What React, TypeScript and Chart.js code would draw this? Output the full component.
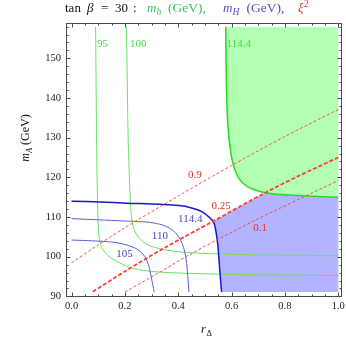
import React, { useEffect, useRef } from 'react';
import { Chart, registerables } from 'chart.js';
Chart.register(...registerables);

// ---- axis ranges & ticks ----
const X_MIN = -0.021, X_MAX = 1.014, Y_MIN = 89.85, Y_MAX = 158.9;
const xTicks = [0, 0.2, 0.4, 0.6, 0.8, 1.0];
const xTickLabels = ['0.0', '0.2', '0.4', '0.6', '0.8', '1.0'];
const yTicks = [90, 100, 110, 120, 130, 140, 150];
const yTickLabels = ['90', '100', '110', '120', '130', '140', '150'];
const xMinorTicks = [0.05, 0.1, 0.15, 0.25, 0.3, 0.35, 0.45, 0.5, 0.55, 0.65, 0.7, 0.75, 0.85, 0.9, 0.95];
const yMinorTicks = [92, 94, 96, 98, 102, 104, 106, 108, 112, 114, 116, 118, 122, 124, 126, 128, 132, 134, 136, 138, 142, 144, 146, 148, 152, 154, 156, 158];

// ---- contours of m_h (GeV) ----
const mh95 = [[0.090, 157.9], [0.093, 135], [0.095, 122], [0.098, 112], [0.101, 107], [0.104, 104.5], [0.110, 102.8], [0.120, 101.5], [0.137, 100.3], [0.160, 99.2], [0.190, 98.1], [0.235, 97.0], [0.300, 96.3], [0.400, 95.9], [0.550, 95.6], [0.750, 95.4], [1.0, 95.25]];
const mh100 = [[0.206, 157.9], [0.212, 130], [0.218, 118], [0.222, 112], [0.226, 109.5], [0.231, 107.6], [0.240, 106], [0.250, 105], [0.268, 103.8], [0.290, 102.9], [0.320, 102.2], [0.370, 101.5], [0.450, 101.0], [0.600, 100.6], [0.800, 100.4], [1.0, 100.25]];
const mh1144 = [[0.578, 157.9], [0.580, 145], [0.584, 136], [0.590, 130], [0.598, 125.8], [0.609, 122.6], [0.625, 120.0], [0.648, 118.2], [0.680, 117.0], [0.727, 116.15], [0.800, 115.6], [0.900, 115.25], [1.0, 115.0]];

// ---- contours of m_H (GeV) ----
const mH105 = [[0, 104.2], [0.08, 104.0], [0.15, 103.7], [0.2, 103.1], [0.235, 102.3], [0.258, 101.3], [0.275, 100.0], [0.288, 98], [0.297, 95.5], [0.304, 93], [0.31, 91.1]];
const mH110 = [[0, 109.6], [0.1, 109.3], [0.2, 109.0], [0.28, 108.75], [0.33, 108.2], [0.365, 107.3], [0.39, 106.0], [0.408, 104.3], [0.42, 102.3], [0.428, 100], [0.434, 96.5], [0.44, 91.1]];
const mH1144 = [[0, 114.0], [0.107, 113.8], [0.206, 113.5], [0.331, 113.2], [0.418, 112.8], [0.46, 112.1], [0.49, 111.3], [0.51, 110.3], [0.521, 109.6], [0.531, 108.95], [0.538, 107.5], [0.544, 105.2], [0.549, 102.5], [0.553, 99], [0.557, 95.5], [0.5625, 91.1]];

// ---- contours of xi^2 ----
const xi09 = [[0, 98.5], [0.1, 103], [0.2, 107.3], [0.4, 115.3], [0.6, 123], [0.8, 130.3], [1.0, 137.1]];
const xi025 = [[0.08, 91.2], [0.2, 96.3], [0.35, 102.3], [0.531, 108.95], [0.727, 116.15], [0.85, 120.3], [1.0, 125]];
const xi01 = [[0.2, 91.1], [0.32, 95.7], [0.444, 100.6], [0.556, 104.6], [0.7, 109.6], [0.856, 114.6], [1.0, 119.2]];

// data domain corners
const DATA_X_MAX = 1.0, DATA_Y_MIN = 91.1, DATA_Y_MAX = 157.9;
// where mH=114.4 meets xi^2=0.25, and where xi^2=0.25 meets mh=114.4
const crossBlueXi = [0.531, 108.95];
const crossXiGreen = [0.727, 116.15];

// ---- contour labels ----
const greenLabels: [string, number, number][] = [['95', 0.095, 153.6], ['100', 0.219, 153.6], ['114.4', 0.581, 153.6]];
const redLabels: [string, number, number][] = [['0.9', 0.462, 120.6], ['0.25', 0.5605, 112.65], ['0.1', 0.707, 107.25]];
const blueLabels: [string, number, number][] = [['114.4', 0.445, 109.6], ['110', 0.331, 105.15], ['105', 0.198, 100.6]];

const toPts = (a: number[][]) => a.map(([x, y]) => ({ x, y }));

const SERIF = '"Liberation Serif", "DejaVu Serif", serif';
const GREEN_LINE = '#66e466';
const GREEN_MAIN = '#22dd22';
const BLUE_LINE = '#5a5aee';
const BLUE_MAIN = '#1818d8';
const RED = '#ff3c3c';

function buildGreenRegion() {
  const last = mh1144[mh1144.length - 1];
  return [...mh1144, last, [DATA_X_MAX, DATA_Y_MAX], [DATA_X_MAX, DATA_Y_MAX]];
}
function buildBlueRegion() {
  const lower = mH1144.filter(([, y]) => y < crossBlueXi[1]).reverse();
  const mid = xi025.filter(([x]) => x > crossBlueXi[0] && x < crossXiGreen[0]);
  const right = mh1144.filter(([x]) => x > crossXiGreen[0]);
  const bottomStart = lower[0];
  return [
    bottomStart,
    ...lower,
    crossBlueXi, crossBlueXi,
    ...mid,
    crossXiGreen, crossXiGreen,
    ...right,
    right[right.length - 1],
    [DATA_X_MAX, DATA_Y_MIN], [DATA_X_MAX, DATA_Y_MIN],
    bottomStart,
  ];
}

function lineDs(data: number[][], color: string, width: number, dash: number[] = []) {
  return {
    data: toPts(data), showLine: true, borderColor: color, borderWidth: width,
    borderDash: dash, pointRadius: 0, tension: 0.3, fill: false, order: 1,
  };
}

const overlay = {
  id: 'overlay',
  afterDraw(chart: any) {
    const { ctx, chartArea: a, scales } = chart;
    const sx = scales.x, sy = scales.y;
    ctx.save();
    // frame
    ctx.strokeStyle = '#4a4a4a';
    ctx.lineWidth = 1;
    ctx.strokeRect(a.left + 0.5, a.top + 0.5, a.right - a.left - 1, a.bottom - a.top - 1);
    // ticks
    ctx.beginPath();
    const xt = (v: number, len: number) => {
      const p = Math.round(sx.getPixelForValue(v)) + 0.5;
      ctx.moveTo(p, a.bottom); ctx.lineTo(p, a.bottom - len);
      ctx.moveTo(p, a.top); ctx.lineTo(p, a.top + len);
    };
    const yt = (v: number, len: number) => {
      const p = Math.round(sy.getPixelForValue(v)) + 0.5;
      ctx.moveTo(a.left, p); ctx.lineTo(a.left + len, p);
      ctx.moveTo(a.right, p); ctx.lineTo(a.right - len, p);
    };
    xTicks.forEach(v => xt(v, 4.5));
    xMinorTicks.forEach(v => xt(v, 2.5));
    yTicks.forEach(v => yt(v, 4.5));
    yMinorTicks.forEach(v => yt(v, 2.5));
    ctx.stroke();

    // contour labels
    ctx.font = `11px ${SERIF}`;
    ctx.textBaseline = 'middle';
    ctx.textAlign = 'left';
    ctx.fillStyle = '#44dd44';
    greenLabels.forEach(([t, x, y]) => ctx.fillText(t, sx.getPixelForValue(x), sy.getPixelForValue(y)));
    ctx.textAlign = 'center';
    ctx.fillStyle = '#ee2a2a';
    redLabels.forEach(([t, x, y]) => ctx.fillText(t, sx.getPixelForValue(x), sy.getPixelForValue(y)));
    ctx.fillStyle = '#4646cc';
    blueLabels.forEach(([t, x, y]) => ctx.fillText(t, sx.getPixelForValue(x), sy.getPixelForValue(y)));

    // title
    ctx.textAlign = 'left';
    ctx.textBaseline = 'alphabetic';
    const by = 12;
    const TS = 13, SS = 9.5;
    const run = (t: string, x: number, italic: boolean, size: number, color: string, dy = 0) => {
      ctx.font = `${italic ? 'italic ' : ''}${size}px ${SERIF}`;
      ctx.fillStyle = color;
      ctx.fillText(t, x, by + dy);
      return x + ctx.measureText(t).width;
    };
    const K = '#111';
    run('tan', 65, false, TS, K);
    run('\u03B2', 87, true, TS, K);
    run('=', 101, false, TS, K);
    run('30', 115, false, TS, K);
    run(':', 133, false, TS, K);
    const GT = '#3cbf5a', BT = '#5050c0', RT = '#e8323c';
    let cx = 147;
    cx = run('m', cx, true, TS, GT);
    cx = run('h', cx, true, SS, GT, 2.5);
    run('(GeV),', 168, false, 13.5, GT);
    cx = 223;
    cx = run('m', cx, true, TS, BT);
    cx = run('H', cx, true, SS, BT, 2.5);
    run('(GeV),', 246.5, false, 13.5, BT);
    cx = 298;
    cx = run('\u03BE', cx, true, TS, RT);
    run('2', cx + 0.5, false, SS, RT, -5);

    // x axis title
    ctx.fillStyle = '#111';
    ctx.font = `italic 12px ${SERIF}`;
    ctx.fillText('r', 201, 333);
    ctx.font = `8.5px ${SERIF}`;
    ctx.fillText('\u0394', 206.5, 336);

    // y axis title (rotated)
    ctx.save();
    ctx.translate(29, 138);
    ctx.rotate(-Math.PI / 2);
    ctx.font = `italic 12px ${SERIF}`;
    const w1 = ctx.measureText('m').width;
    ctx.font = `italic 8.5px ${SERIF}`;
    const w2 = ctx.measureText('A').width;
    ctx.font = `12px ${SERIF}`;
    const w3 = ctx.measureText(' (GeV)').width;
    let rx = -(w1 + w2 + w3) / 2;
    ctx.font = `italic 12px ${SERIF}`;
    ctx.fillText('m', rx, 0); rx += w1;
    ctx.font = `italic 8.5px ${SERIF}`;
    ctx.fillText('A', rx, 2.5); rx += w2;
    ctx.font = `12px ${SERIF}`;
    ctx.fillText(' (GeV)', rx, 0);
    ctx.restore();

    ctx.restore();
  },
};

export default function App() {
  const ref = useRef<HTMLCanvasElement | null>(null);
  useEffect(() => {
    if (!ref.current) return;
    const chart = new Chart(ref.current, {
      type: 'scatter',
      data: {
        datasets: [
          lineDs(xi025, RED, 1.8, [4, 2]),
          lineDs(xi09, RED, 0.9, [3, 2]),
          lineDs(xi01, RED, 0.9, [3, 2]),
          lineDs(mH1144, BLUE_MAIN, 1.5),
          lineDs(mH110, BLUE_LINE, 1),
          lineDs(mH105, BLUE_LINE, 1),
          lineDs(mh1144, GREEN_MAIN, 1.5),
          lineDs(mh100, GREEN_LINE, 1),
          lineDs(mh95, GREEN_LINE, 1),
          {
            data: toPts(buildGreenRegion()), showLine: true, borderWidth: 0, borderColor: 'rgba(0,0,0,0)',
            backgroundColor: '#b3ffb3', fill: 'shape', pointRadius: 0, tension: 0.3, order: 5,
          },
          {
            data: toPts(buildBlueRegion()), showLine: true, borderWidth: 0, borderColor: 'rgba(0,0,0,0)',
            backgroundColor: '#b3b3ff', fill: 'shape', pointRadius: 0, tension: 0.3, order: 5,
          },
        ] as any,
      },
      options: {
        animation: false,
        responsive: false,
        devicePixelRatio: 1,
        events: [],
        layout: { padding: { top: 23, right: 4, left: 0, bottom: 0 } },
        plugins: { legend: { display: false }, tooltip: { enabled: false }, title: { display: false } },
        scales: {
          x: {
            type: 'linear', min: X_MIN, max: X_MAX,
            grid: { display: false, drawTicks: false },
            border: { display: false },
            ticks: {
              autoSkip: false, maxRotation: 0, padding: 3, color: '#222',
              font: { family: SERIF, size: 10.5 },
              callback: (_v: any, i: number) => xTickLabels[i],
            },
            afterBuildTicks: (s: any) => { s.ticks = xTicks.map(value => ({ value })); },
            afterFit: (s: any) => { s.height = 42; s.paddingLeft = 0; s.paddingRight = 0; },
          },
          y: {
            type: 'linear', min: Y_MIN, max: Y_MAX,
            grid: { display: false, drawTicks: false },
            border: { display: false },
            ticks: {
              autoSkip: false, padding: 5, color: '#222',
              font: { family: SERIF, size: 10.5 },
              callback: (_v: any, i: number) => yTickLabels[i],
            },
            afterBuildTicks: (s: any) => { s.ticks = yTicks.map(value => ({ value })); },
            afterFit: (s: any) => { s.width = 66; s.paddingTop = 0; s.paddingBottom = 0; },
          },
        },
      } as any,
      plugins: [overlay],
    });
    return () => chart.destroy();
  }, []);
  return (
    <div style={{ position: 'fixed', left: 0, top: 0, width: 346, height: 339, background: '#fff' }}>
      <canvas ref={ref} width={346} height={339} />
    </div>
  );
}
